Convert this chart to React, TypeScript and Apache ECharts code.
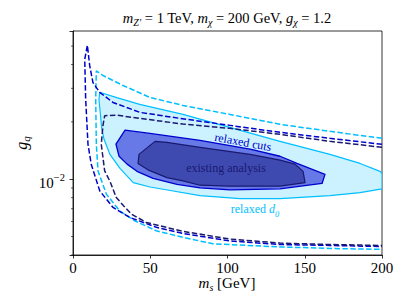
import React, { useEffect, useRef } from 'react';
import * as echarts from 'echarts';

// ---- data ----
const xTicks = [0, 50, 100, 150, 200];
const yMajorTick = 0.01;
const yMinorTicks = [0.004, 0.005, 0.006, 0.007, 0.008, 0.009, 0.02, 0.03, 0.04, 0.05];

// filled contour regions: [m_s, g_q]
const relaxedD0Region: [number, number][] = [
  [17.3, 0.0286], [27.8, 0.0269], [43.2, 0.0247], [71.2, 0.0219], [134, 0.0158],
  [166.3, 0.0135], [185.8, 0.0121], [198.7, 0.011], [200, 0.0107], [200, 0.0089],
  [185.8, 0.0085], [166.3, 0.0082], [134, 0.0079], [108, 0.0079], [82.2, 0.0082],
  [60.2, 0.0088], [49.8, 0.0091], [39, 0.0096], [30.4, 0.0114], [23.9, 0.0135],
  [20.1, 0.0162], [18.6, 0.0185], [16.8, 0.0262],
];
const relaxedCutsRegion: [number, number][] = [
  [33.7, 0.0181], [49.8, 0.0174], [82.2, 0.016], [114.6, 0.0144], [134, 0.0132],
  [145, 0.0121], [163.1, 0.0106], [161.2, 0.0095], [134, 0.0089], [101.6, 0.0088],
  [82.2, 0.009], [67.3, 0.0094], [51.8, 0.0101], [41.4, 0.011], [35, 0.012],
  [29.8, 0.0132], [27.8, 0.0153],
];
const existingRegion: [number, number][] = [
  [53.1, 0.0158], [60.8, 0.0156], [82.2, 0.0147], [114.6, 0.0135], [134, 0.0126],
  [143.7, 0.012], [148.9, 0.011], [150.2, 0.0096], [134, 0.0092], [101.6, 0.0092],
  [82.2, 0.0093], [71.2, 0.0098], [60.8, 0.0102], [48.5, 0.0112], [42.1, 0.0121],
  [42.7, 0.0135],
];

// dashed expected-sensitivity curves
const blueDashed: [number, number][] = [
  [200, 0.01525], [166.3, 0.01639], [134, 0.01763], [101.6, 0.01917], [69.3, 0.02086],
  [43.4, 0.02243], [25.9, 0.02529], [17.3, 0.02855], [12.9, 0.0322], [10.8, 0.03953],
  [9.3, 0.05046], [7.6, 0.04264], [8.2, 0.02633], [9.7, 0.01525], [11.8, 0.01198],
  [17.3, 0.00869], [25.9, 0.00711], [36.7, 0.0063], [53.9, 0.00559], [71.2, 0.00519],
  [101.6, 0.00474], [134, 0.00454], [166.3, 0.00449], [200, 0.00443],
];
const navyDashed: [number, number][] = [
  [200, 0.01471], [166.3, 0.01581], [134, 0.0172], [101.6, 0.01849], [71.2, 0.01948],
  [43.2, 0.02086], [28, 0.02171], [20.5, 0.02156], [19.4, 0.01917], [18.3, 0.01525],
  [20.5, 0.01105], [23.9, 0.00976], [28, 0.00802], [33, 0.00722], [37.7, 0.00656],
  [47.4, 0.00593], [71.2, 0.00532], [101.6, 0.00485], [134, 0.00462], [166.3, 0.00454],
  [200, 0.00449],
];
const cyanDashed: [number, number][] = [
  [200, 0.01639], [166.3, 0.01784], [134, 0.01941], [101.6, 0.02189], [71.2, 0.0244],
  [49.8, 0.02687], [32.4, 0.03105], [19.4, 0.03503], [15.1, 0.03708], [14.7, 0.02633],
  [15.1, 0.01525], [16.2, 0.01105], [21.6, 0.00835], [30.2, 0.00682], [39.9, 0.00605],
  [53.9, 0.00536], [71.2, 0.00495], [90.6, 0.00458], [134, 0.00441], [166.3, 0.00433],
  [200, 0.00428],
];

const SERIF = 'Liberation Serif';
const C_CYAN = '#00bfff';
const C_BLUE = '#0000cd';
const C_NAVY = '#191970';

function polySeries(pts: [number, number][], fill: string, stroke: string, lw: number) {
  return {
    type: 'custom',
    silent: true,
    clip: true,
    data: [[100, 0.01]],
    renderItem: (_p: any, api: any) => ({
      type: 'polygon',
      shape: { points: pts.map((p) => api.coord(p)) },
      style: { fill, stroke, lineWidth: lw, lineJoin: 'round' },
    }),
  };
}

function dashedSeries(pts: [number, number][], color: string) {
  return {
    type: 'line',
    data: pts,
    symbol: 'none',
    showSymbol: false,
    silent: true,
    smooth: false,
    lineStyle: { color, width: 1.5, type: [5.5, 2.4] },
  };
}

const rText = (size: number) => ({ fontFamily: SERIF, fontSize: size, lineHeight: size + 2, verticalAlign: 'top' });
const iText = (size: number) => ({ ...rText(size), fontStyle: 'italic' });
const subText = (size: number, shift: number) => ({
  fontFamily: SERIF, fontSize: size, fontStyle: 'italic', lineHeight: size + 1,
  verticalAlign: 'top', padding: [shift, 0, 0, 0],
});

export default function App() {
  const ref = useRef<HTMLDivElement>(null);
  useEffect(() => {
    document.body.style.margin = '0';
    if (!ref.current) return;
    const chart = echarts.init(ref.current, undefined, { renderer: 'svg' });
    const option: any = {
      animation: false,
      backgroundColor: '#fff',
      textStyle: { fontFamily: SERIF },
      grid: {
        left: 73, right: 29, top: 31, bottom: 53,
        show: true, borderColor: '#000', borderWidth: 0.8, backgroundColor: 'transparent',
      },
      xAxis: {
        type: 'value', min: xTicks[0], max: xTicks[xTicks.length - 1], interval: 50,
        axisLine: { show: true, lineStyle: { color: '#000', width: 0.8 } },
        axisTick: { show: true, length: 3.5, lineStyle: { color: '#000', width: 0.8 } },
        axisLabel: { color: '#000', fontFamily: SERIF, fontSize: 15, margin: 5 },
        splitLine: { show: false },
      },
      yAxis: {
        type: 'log', logBase: 10, min: 0.004, max: 0.06,
        axisLine: { show: true, lineStyle: { color: '#000', width: 0.8 } },
        axisTick: { show: true, length: 3.5, lineStyle: { color: '#000', width: 0.8 } },
        axisLabel: {
          color: '#000', margin: 8,
          formatter: (v: number) => (Math.abs(v - yMajorTick) < 1e-9 ? '{b|10}{s|−2}' : ''),
          rich: {
            b: { fontFamily: SERIF, fontSize: 15, lineHeight: 15, verticalAlign: 'top', padding: [4, 0, 0, 0] },
            s: { fontFamily: SERIF, fontSize: 10.5, lineHeight: 10, verticalAlign: 'top' },
          },
        },
        splitLine: { show: false },
      },
      graphic: [
        {
          type: 'text', x: 227, y: 19, silent: true,
          style: {
            text: '{i|m}{s|Z′}{r| = 1 TeV, }{i|m}{s|χ}{r| = 200 GeV, }{i|g}{s|χ}{r| = 1.2}',
            fill: '#000', textAlign: 'center', textVerticalAlign: 'middle',
            rich: { r: rText(14.5), i: iText(14.5), s: subText(10, 7) },
          },
        },
        {
          type: 'text', x: 227, y: 284, silent: true,
          style: {
            text: '{i|m}{s|s}{r| [GeV]}',
            fill: '#000', textAlign: 'center', textVerticalAlign: 'middle',
            rich: { r: rText(15), i: iText(15), s: subText(10, 7) },
          },
        },
        {
          type: 'text', x: 22, y: 143, rotation: Math.PI / 2, silent: true,
          style: {
            text: '{i|g}{s|q}',
            fill: '#000', textAlign: 'center', textVerticalAlign: 'middle',
            rich: { i: iText(16), s: subText(11, 7) },
          },
        },
        {
          type: 'text', x: 243, y: 142, rotation: -0.18, silent: true, z: 100,
          style: {
            text: 'relaxed cuts', fill: C_BLUE, fontFamily: SERIF, fontSize: 12,
            textAlign: 'center', textVerticalAlign: 'middle',
          },
        },
        {
          type: 'text', x: 226, y: 168, silent: true, z: 100,
          style: {
            text: 'existing analysis', fill: C_NAVY, fontFamily: SERIF, fontSize: 12,
            textAlign: 'center', textVerticalAlign: 'middle',
          },
        },
        {
          type: 'text', x: 255, y: 210, silent: true, z: 100,
          style: {
            text: '{r|relaxed }{i|d}{s|0}', fill: C_CYAN,
            textAlign: 'center', textVerticalAlign: 'middle',
            rich: { r: rText(12), i: iText(12), s: subText(8.5, 6) },
          },
        },
      ],
      series: [
        polySeries(relaxedD0Region, '#ccf2ff', C_CYAN, 1.2),
        polySeries(relaxedCutsRegion, '#6679e6', C_BLUE, 1.3),
        polySeries(existingRegion, '#3f4ab0', C_NAVY, 1.2),
        dashedSeries(cyanDashed, C_CYAN),
        dashedSeries(blueDashed, C_BLUE),
        dashedSeries(navyDashed, C_NAVY),
        {
          type: 'custom', silent: true, clip: false,
          data: yMinorTicks.map((v) => [0, v]),
          renderItem: (_p: any, api: any) => {
            const p = api.coord([0, api.value(1)]);
            return {
              type: 'line',
              shape: { x1: p[0] - 2, y1: p[1], x2: p[0], y2: p[1] },
              style: { stroke: '#000', lineWidth: 0.6 },
            };
          },
        },
      ],
    };
    chart.setOption(option);
    return () => chart.dispose();
  }, []);
  return <div ref={ref} style={{ width: 411, height: 308 }} />;
}
